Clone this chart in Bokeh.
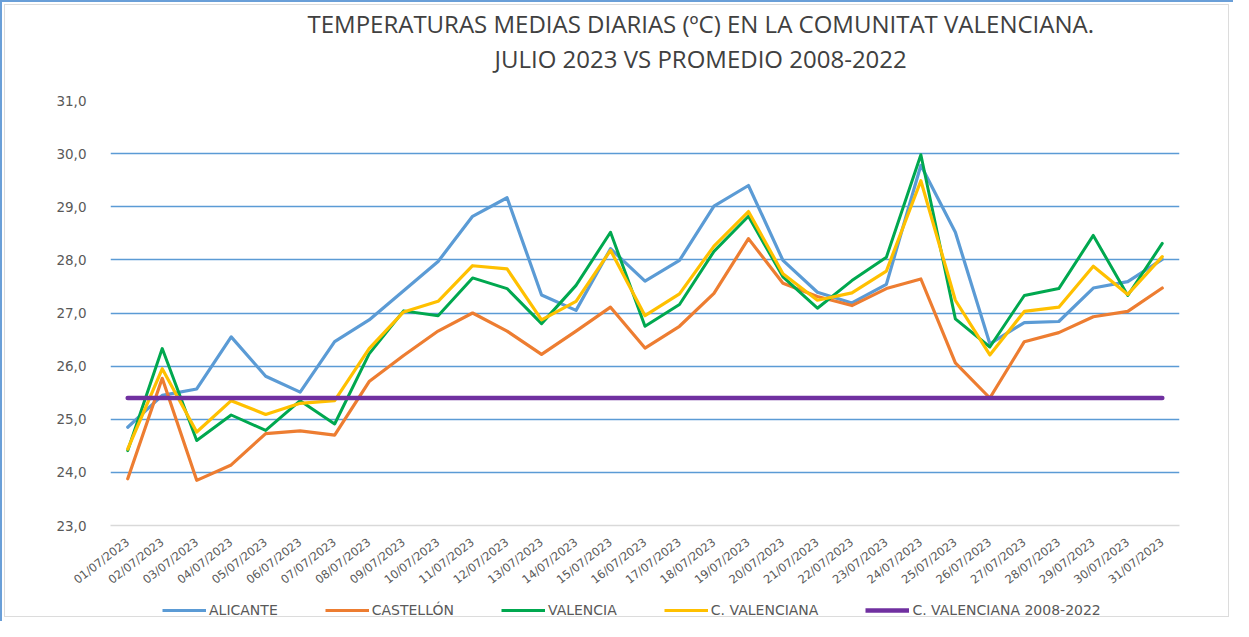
import numpy as np
from bokeh.plotting import figure
from bokeh.layouts import column
from bokeh.models import FactorRange, Range1d, FixedTicker, Legend, LegendItem, Title
from bokeh.embed import file_html
from bokeh.resources import INLINE

dias = ["01/07/2023", "02/07/2023", "03/07/2023", "04/07/2023", "05/07/2023",
        "06/07/2023", "07/07/2023", "08/07/2023", "09/07/2023", "10/07/2023",
        "11/07/2023", "12/07/2023", "13/07/2023", "14/07/2023", "15/07/2023",
        "16/07/2023", "17/07/2023", "18/07/2023", "19/07/2023", "20/07/2023",
        "21/07/2023", "22/07/2023", "23/07/2023", "24/07/2023", "25/07/2023",
        "26/07/2023", "27/07/2023", "28/07/2023", "29/07/2023", "30/07/2023",
        "31/07/2023"]

alicante = [24.85, 25.45, 25.57, 26.55, 25.81, 25.51, 26.46, 26.87, 27.42, 27.97,
            28.82, 29.17, 27.34, 27.05, 28.21, 27.60, 27.99, 29.01, 29.40, 27.99,
            27.39, 27.19, 27.54, 29.78, 28.52, 26.42, 26.82, 26.84, 27.47, 27.59,
            28.01]
castellon = [23.88, 25.77, 23.85, 24.14, 24.73, 24.78, 24.70, 25.71, 26.20, 26.66,
             27.00, 26.66, 26.22, 26.66, 27.11, 26.34, 26.75, 27.37, 28.40, 27.56,
             27.31, 27.14, 27.46, 27.64, 26.06, 25.40, 26.46, 26.63, 26.93, 27.03,
             27.47]
valencia = [24.41, 26.33, 24.60, 25.08, 24.79, 25.35, 24.91, 26.23, 27.04, 26.95,
            27.66, 27.46, 26.80, 27.52, 28.52, 26.75, 27.16, 28.16, 28.82, 27.68,
            27.09, 27.61, 28.05, 29.98, 26.89, 26.36, 27.33, 27.46, 28.46, 27.33,
            28.31]
c_valenciana = [24.44, 25.95, 24.76, 25.35, 25.09, 25.30, 25.35, 26.33, 27.02, 27.22,
                27.89, 27.83, 26.87, 27.22, 28.18, 26.95, 27.36, 28.26, 28.91, 27.74,
                27.24, 27.38, 27.79, 29.49, 27.24, 26.21, 27.03, 27.11, 27.88, 27.35,
                28.06]
promedio_2008_2022 = 25.4

y_ticks = [23, 24, 25, 26, 27, 28, 29, 30, 31]
y_tick_labels = ["23,0", "24,0", "25,0", "26,0", "27,0", "28,0", "29,0", "30,0", "31,0"]

series_names = ["ALICANTE", "CASTELLÓN", "VALENCIA", "C. VALENCIANA", "C. VALENCIANA 2008-2022"]
series_colors = ["#5b9bd5", "#ed7d31", "#00a84f", "#ffc000", "#7030a0"]
series_widths = [3.2, 3.2, 3.0, 3.2, 4.6]

title_1 = "TEMPERATURAS MEDIAS DIARIAS (ºC) EN LA COMUNITAT VALENCIANA."
title_2 = "JULIO 2023 VS PROMEDIO 2008-2022"

FONT = "DejaVu Sans"
TXT = "#595959"
TFONT = "Open Sans"
TSIZE = "24px"

p = figure(width=1233, height=595,
           x_range=FactorRange(factors=dias), y_range=Range1d(23, 31),
           output_backend="svg", toolbar_location=None,
           min_border_left=110, min_border_right=54,
           min_border_top=100, min_border_bottom=60)

p.title.text = title_1
p.title.align = "left"
p.title.offset = 197
p.title.text_font = TFONT
p.title.text_font_size = TSIZE
p.title.text_font_style = "normal"
p.title.text_color = "#404040"
p.title.standoff = 0

spacer = Title(text=" ", text_font_size="1px", standoff=23)
p.add_layout(spacer, "above")
t2 = Title(text=title_2, align="left", offset=384, text_font=TFONT,
           text_font_size=TSIZE, text_font_style="normal", text_color="#404040",
           standoff=0)
p.add_layout(t2, "above")

p.border_fill_color = None
p.background_fill_color = "white"
p.outline_line_color = None

# axes
p.xaxis.major_label_orientation = 0.66
p.xaxis.major_tick_line_color = None
p.xaxis.minor_tick_line_color = None
p.xaxis.axis_line_color = "#d9d9d9"
p.xaxis.axis_line_width = 1.5
p.xaxis.major_label_text_font = FONT
p.xaxis.major_label_text_font_size = "11.5px"
p.xaxis.major_label_text_color = TXT
p.xaxis.major_label_standoff = 9

p.yaxis.ticker = FixedTicker(ticks=y_ticks)
p.yaxis.major_label_overrides = {t: l for t, l in zip(y_ticks, y_tick_labels)}
p.yaxis.axis_line_color = None
p.yaxis.major_tick_line_color = None
p.yaxis.minor_tick_line_color = None
p.yaxis.major_label_text_font = FONT
p.yaxis.major_label_text_font_size = "13.5px"
p.yaxis.major_label_text_color = TXT
p.yaxis.major_label_standoff = 18

p.xgrid.visible = False
p.ygrid.ticker = FixedTicker(ticks=y_ticks[1:])
p.ygrid.grid_line_color = "#5b9bd5"
p.ygrid.grid_line_width = 1.6

series = [alicante, castellon, valencia, c_valenciana,
          [promedio_2008_2022] * len(dias)]
for vals, col, w in zip(series, series_colors, series_widths):
    p.line(x=dias, y=vals, line_color=col, line_width=w,
           line_cap="round", line_join="round")

# legend strip below the chart
pl = figure(width=1233, height=26, x_range=Range1d(0, 1), y_range=Range1d(0, 1),
            output_backend="svg", toolbar_location=None,
            min_border_left=0, min_border_right=0, min_border_top=0, min_border_bottom=0)
pl.axis.visible = False
pl.grid.visible = False
pl.outline_line_color = None
pl.border_fill_color = None
pl.background_fill_color = None

legend_renderers = []
for col, w in zip(series_colors, series_widths):
    legend_renderers.append(pl.line(x=np.array([np.nan]), y=np.array([np.nan]),
                                    line_color=col, line_width=w, line_cap="butt"))

legend = Legend(items=[LegendItem(label=n, renderers=[r]) for n, r in zip(series_names, legend_renderers)],
                orientation="horizontal", location=(52, 1),
                glyph_width=44, glyph_height=20, label_standoff=3, spacing=47,
                padding=0, margin=0, border_line_color=None, background_fill_alpha=0,
                label_text_font=FONT, label_text_font_size="14px", label_text_color=TXT,
                label_height=20)
pl.add_layout(legend, "center")

layout = column(p, pl, spacing=0,
                styles={"box-shadow": "inset 2px 2px 0 0 #6a9fd8, inset 0 0 0 4px #ffffff, inset 0 0 0 5px #dcdcdc"})

open("out.html", "w").write(file_html(layout, INLINE))
